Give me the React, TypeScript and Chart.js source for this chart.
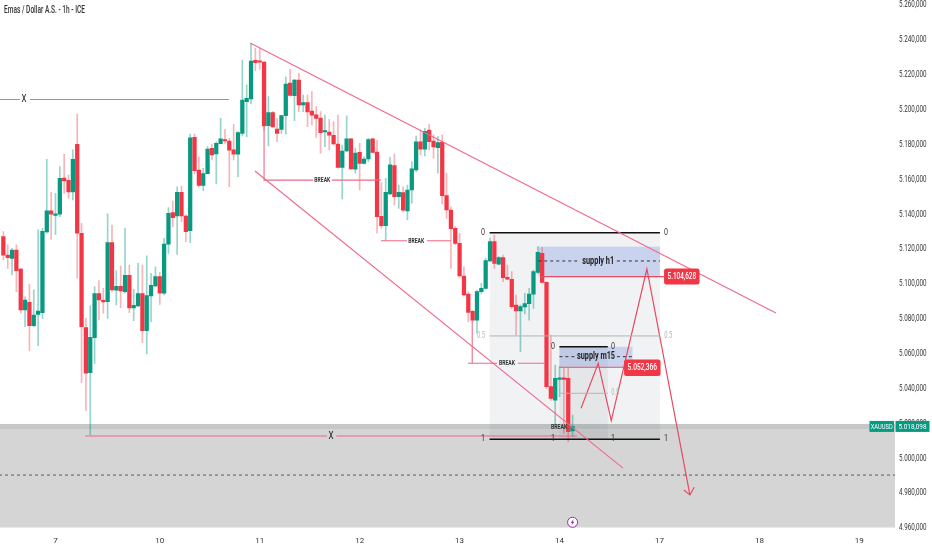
import React, { useEffect, useRef } from "react";
import { Chart, registerables } from "chart.js";

Chart.register(...registerables);

const opens = [
  5127.0, 5116.4, 5114.5, 5119.3, 5108.4, 5084.9, 5089.3, 5075.9, 5082.4, 5083.4,
  5129.6, 5141.7, 5139.2, 5139.8, 5160.6, 5159.3, 5152.6, 5179.9, 5128.9, 5074.8,
  5048.9, 5069.0, 5094.3, 5090.1, 5089.7, 5123.5, 5096.2, 5098.5, 5095.4, 5104.8,
  5086.0, 5087.2, 5094.3, 5073.0, 5092.9, 5098.7, 5104.0, 5094.6, 5122.6, 5140.7,
  5138.8, 5152.4, 5138.8, 5130.4, 5183.9, 5165.2, 5156.4, 5163.1, 5177.6, 5174.4,
  5180.3, 5182.2, 5181.8, 5176.7, 5174.2, 5186.2, 5204.4, 5205.9, 5228.1, 5227.3,
  5227.1, 5190.6, 5198.1, 5188.7, 5188.5, 5196.4, 5215.1, 5207.8, 5216.8, 5202.5,
  5203.8, 5199.0, 5196.9, 5195.0, 5187.0, 5187.0, 5185.1, 5180.1, 5166.7, 5176.1,
  5183.0, 5165.6, 5175.3, 5169.0, 5171.5, 5183.0, 5175.5, 5138.6, 5133.3, 5151.4,
  5167.7, 5149.9, 5152.2, 5141.7, 5153.7, 5165.2, 5181.3, 5177.2, 5188.1, 5181.8,
  5178.0, 5181.1, 5150.5, 5142.2, 5131.7, 5123.1, 5104.4, 5094.0, 5084.1, 5079.1,
  5095.4, 5097.3, 5113.0, 5124.1, 5111.1, 5114.9, 5103.6, 5102.5, 5087.7, 5084.3,
  5086.6, 5088.5, 5094.0, 5106.5, 5117.4, 5100.7, 5040.9, 5033.2, 5045.1, 5045.5,
  5045.7, 5015.5,
];
const highs = [
  5129.8, 5122.2, 5120.3, 5122.2, 5108.8, 5092.5, 5099.8, 5096.4, 5130.8, 5131.7,
  5171.3, 5152.4, 5151.8, 5167.1, 5174.2, 5162.3, 5176.7, 5197.3, 5134.6, 5080.1,
  5087.2, 5098.3, 5101.7, 5097.3, 5140.0, 5133.6, 5107.5, 5110.1, 5131.7, 5110.7,
  5096.7, 5111.7, 5110.7, 5115.9, 5105.9, 5109.7, 5106.3, 5126.0, 5143.6, 5147.4,
  5155.6, 5156.0, 5139.4, 5185.8, 5185.8, 5172.8, 5166.2, 5178.6, 5180.1, 5181.4,
  5194.8, 5188.5, 5183.4, 5191.4, 5187.2, 5228.3, 5214.0, 5237.9, 5235.0, 5235.0,
  5227.7, 5207.3, 5198.7, 5194.8, 5196.7, 5218.7, 5222.9, 5217.2, 5220.6, 5208.2,
  5208.2, 5210.1, 5201.5, 5198.7, 5196.7, 5194.3, 5192.9, 5196.7, 5179.5, 5196.2,
  5183.4, 5177.6, 5180.5, 5172.8, 5183.4, 5183.4, 5182.4, 5157.9, 5160.4, 5172.5,
  5174.4, 5156.6, 5155.6, 5156.6, 5170.0, 5184.7, 5188.1, 5189.1, 5191.4, 5185.3,
  5184.3, 5185.3, 5163.3, 5144.1, 5132.7, 5128.8, 5109.7, 5095.4, 5084.9, 5096.3,
  5100.2, 5114.5, 5126.0, 5127.9, 5115.5, 5116.4, 5110.7, 5106.9, 5093.5, 5087.7,
  5094.4, 5097.3, 5107.8, 5121.2, 5120.8, 5101.1, 5070.5, 5053.3, 5052.4, 5051.4,
  5051.4, 5024.6,
];
const lows = [
  5113.6, 5108.8, 5105.0, 5095.4, 5083.0, 5075.3, 5061.6, 5075.3, 5064.4, 5080.1,
  5128.9, 5125.4, 5128.3, 5138.4, 5151.8, 5148.9, 5148.0, 5103.1, 5043.2, 5027.1,
  5013.2, 5054.3, 5079.2, 5083.0, 5080.1, 5095.4, 5087.8, 5086.2, 5094.5, 5083.4,
  5078.8, 5086.8, 5066.2, 5059.7, 5078.2, 5098.3, 5088.1, 5093.5, 5117.4, 5132.7,
  5116.8, 5135.6, 5124.1, 5123.5, 5162.9, 5155.3, 5153.3, 5162.9, 5170.9, 5157.2,
  5180.1, 5180.5, 5155.6, 5170.9, 5161.4, 5184.7, 5184.3, 5203.1, 5222.2, 5222.9,
  5188.0, 5179.0, 5189.7, 5181.4, 5186.2, 5185.8, 5207.6, 5193.5, 5198.7, 5198.7,
  5190.1, 5191.0, 5183.9, 5174.8, 5178.6, 5176.7, 5179.5, 5166.2, 5148.6, 5175.7,
  5165.6, 5163.3, 5153.7, 5168.6, 5170.0, 5174.8, 5128.9, 5131.7, 5124.7, 5150.9,
  5145.1, 5143.2, 5141.3, 5136.5, 5146.1, 5164.2, 5173.8, 5173.2, 5176.7, 5171.9,
  5163.3, 5145.7, 5137.5, 5108.8, 5122.2, 5103.6, 5092.9, 5078.2, 5078.2, 5071.5,
  5094.4, 5096.9, 5112.6, 5108.8, 5110.7, 5101.1, 5102.1, 5085.8, 5070.5, 5061.0,
  5082.6, 5079.1, 5085.8, 5105.9, 5100.2, 5039.9, 5033.2, 5018.9, 5035.2, 5014.1,
  5009.3, 5012.2,
];
const closes = [
  5116.4, 5114.9, 5119.3, 5107.5, 5084.9, 5090.6, 5075.9, 5082.0, 5084.3, 5130.0,
  5141.7, 5139.8, 5140.1, 5160.4, 5158.9, 5152.6, 5171.3, 5128.9, 5075.3, 5048.6,
  5069.2, 5094.3, 5090.6, 5089.5, 5123.5, 5096.4, 5098.5, 5095.8, 5104.8, 5086.0,
  5087.6, 5094.3, 5073.0, 5093.1, 5099.0, 5104.0, 5094.6, 5122.7, 5140.3, 5137.9,
  5152.4, 5138.8, 5129.8, 5183.7, 5164.8, 5156.4, 5163.1, 5177.2, 5173.8, 5180.5,
  5183.0, 5181.8, 5176.5, 5174.2, 5186.6, 5205.3, 5206.3, 5227.7, 5226.8, 5227.0,
  5190.4, 5198.1, 5189.9, 5186.2, 5196.4, 5214.5, 5208.0, 5216.8, 5202.5, 5203.8,
  5198.5, 5196.7, 5194.8, 5186.6, 5187.4, 5185.1, 5180.1, 5166.7, 5176.1, 5183.0,
  5165.8, 5174.9, 5169.0, 5171.5, 5182.6, 5175.3, 5138.4, 5133.3, 5152.4, 5168.1,
  5149.9, 5152.4, 5142.1, 5153.7, 5165.8, 5181.3, 5177.2, 5187.4, 5181.4, 5178.4,
  5180.9, 5150.5, 5142.3, 5131.5, 5123.1, 5104.4, 5093.5, 5083.5, 5079.1, 5095.4,
  5097.3, 5113.2, 5124.1, 5111.6, 5114.9, 5103.4, 5102.5, 5086.8, 5084.3, 5086.8,
  5088.5, 5094.0, 5106.9, 5117.9, 5100.7, 5040.9, 5034.2, 5045.7, 5045.7, 5045.1,
  5015.1, 5018.1,
];

const yTicks = [4960, 4980, 5000, 5020, 5040, 5060, 5080, 5100, 5120, 5140, 5160, 5180, 5200, 5220, 5240, 5260];
const dayTicks = [12, 36, 59, 82, 105, 128, 151, 174, 197];
const dayLabels = ["7", "10", "11", "12", "13", "14", "17", "18", "19"];

const FONT = "Roboto, sans-serif";
const GREEN = "#089981";
const RED = "#f23645";
const PINK = "#f0688a";
const ZIG = "#e84a62";

type Pt = { x: number; y: number };
const P = (x: number, y: number): Pt => ({ x, y });

// Trend lines, levels and projections, in candle index / price.
const xTopA = [P(-1, 5205.6), P(3.8, 5205.6)];
const xTopB = [P(6.1, 5205.6), P(51.9, 5205.6)];
const xBotA = [P(18.8, 5012.6), P(74.5, 5012.6)];
const xBotB = [P(76.6, 5012.6), P(132, 5012.6)];
const channelUp = [P(56.8, 5238), P(177.8, 5083.1)];
const channelLow = [P(57.9, 5164.6), P(142.6, 4994.2)];
const break1A = [P(60, 5190.4), P(60, 5159.4), P(71.3, 5159.4)];
const break1B = [P(75.6, 5159.4), P(86.9, 5159.4)];
const break2A = [P(86.9, 5124.6), P(92.9, 5124.6)];
const break2B = [P(97.5, 5124.6), P(103, 5124.6)];
const break3A = [P(107.9, 5079.1), P(107.9, 5054.3)];
const break3B = [P(106.9, 5054.3), P(113.6, 5054.3)];
const break3C = [P(118.4, 5054.3), P(124.7, 5054.3)];
const fibTop = [P(111.9, 5129.2), P(151.1, 5129.2)];
const fibMid = [P(111.9, 5070), P(151.1, 5070)];
const fibBot = [P(111.9, 5010.7), P(151.1, 5010.7)];
const fib2Top = [P(127.97, 5063.8), P(139.1, 5063.8)];
const fib2Mid = [P(127.97, 5037.1), P(139.1, 5037.1)];
const supplyH1DashA = [P(123.1, 5113), P(132.7, 5113)];
const supplyH1DashB = [P(141.2, 5113), P(151.1, 5113)];
const supplyM15DashA = [P(127.97, 5058.1), P(131.6, 5058.1)];
const supplyM15DashB = [P(141.2, 5058.1), P(144.8, 5058.1)];
const levelH1 = [P(123.6, 5104), P(152, 5104)];
const levelM15 = [P(127.97, 5052), P(143, 5052)];
const zoneDash = [P(-1, 4990.2), P(205.2, 4990.2)];
const zigzag = [P(132.95, 5028.5), P(136.9, 5054.3), P(139.9, 5021.4), P(148.1, 5108.4), P(158, 4978.8)];
const arrowHead = [P(156.6, 4981.6), P(158, 4978.8), P(159, 4983.2)];

// Shaded areas: x0, x1, price top, price bottom.
const rects: [number, number, number, number, string][] = [
  [-1, 205.2, 5019.5, 4960, "#d5d5d5"],
  [-1, 205.2, 5019.5, 5016.6, "#c6c7c7"],
  [111.9, 151.1, 5129.2, 5010.7, "rgba(120,123,134,0.10)"],
  [127.97, 139.1, 5063.8, 5010.7, "rgba(120,123,134,0.10)"],
  [123.1, 151.1, 5121.2, 5104, "rgba(98,128,222,0.28)"],
  [127.97, 144.8, 5063.8, 5052.3, "rgba(98,128,222,0.28)"],
];

// Text, candle index, price, colour, font, squeezed width.
type Lbl = [string, number, number, string, string, number];
const N = `8.5px ${FONT}`;
const labels: Lbl[] = [
  ["X", 4.76, 5205.6, "#222", `10px ${FONT}`, 5],
  ["X", 75.4, 5012.6, "#222", `10px ${FONT}`, 5],
  ["BREAK", 73.4, 5159.4, "#333", `bold 7px ${FONT}`, 16],
  ["BREAK", 95, 5124.6, "#333", `bold 7px ${FONT}`, 16],
  ["BREAK", 115.9, 5054.3, "#333", `bold 7px ${FONT}`, 16],
  ["BREAK", 127.9, 5017.8, "#333", `bold 7px ${FONT}`, 16],
  ["0", 110.4, 5129.2, "#333", N, 4],
  ["0", 152.5, 5129.2, "#333", N, 4],
  ["0.5", 109.9, 5070, "#b5b5b5", N, 8],
  ["0.5", 153, 5070, "#b5b5b5", N, 8],
  ["1", 110.4, 5010.7, "#333", N, 4],
  ["1", 152.5, 5010.7, "#333", N, 4],
  ["0", 126.5, 5063.8, "#333", N, 4],
  ["0", 140.3, 5063.8, "#333", N, 4],
  ["0.5", 140.8, 5037.1, "#b5b5b5", N, 8],
  ["1", 126.5, 5010.7, "#333", N, 4],
  ["1", 140.3, 5010.7, "#333", N, 4],
  ["supply h1", 136.9, 5113, "#222", `bold 10.5px ${FONT}`, 32],
  ["supply m15", 136.4, 5058.1, "#222", `bold 10.5px ${FONT}`, 38],
];

const fmt = (v: number) => {
  const s = v.toFixed(3).replace(".", ",");
  return s.slice(0, 1) + "." + s.slice(1);
};

const roundBox = (c: CanvasRenderingContext2D, x: number, y: number, w: number, h: number, r: number, col: string) => {
  c.fillStyle = col;
  c.beginPath();
  c.roundRect(x, y, w, h, r);
  c.fill();
};

const overlay = {
  id: "overlay",
  beforeDatasetsDraw(chart: any) {
    const { ctx: c, scales, chartArea: a } = chart;
    c.save();
    c.beginPath();
    c.rect(a.left, a.top, a.right - a.left, a.bottom - a.top);
    c.clip();
    for (const [x0, x1, top, bot, col] of rects) {
      const l = scales.x.getPixelForValue(x0);
      const r = scales.x.getPixelForValue(x1);
      const t = scales.y.getPixelForValue(top);
      const b = scales.y.getPixelForValue(bot);
      c.fillStyle = col;
      c.fillRect(l, t, r - l, b - t);
    }
    c.restore();
  },
  afterDraw(chart: any) {
    const { ctx: c, scales } = chart;
    const X = (v: number) => scales.x.getPixelForValue(v);
    const Y = (v: number) => scales.y.getPixelForValue(v);
    c.save();
    c.textBaseline = "middle";
    c.textAlign = "center";

    // Price axis labels
    c.fillStyle = "#333";
    c.font = `8.5px ${FONT}`;
    c.textAlign = "left";
    for (const value of yTicks) {
      c.fillText(fmt(value), scales.y.left + 4, Y(value) + 0.5, 27.5);
    }
    c.textAlign = "center";

    for (const [t, x, y, col, font, w] of labels) {
      c.font = font;
      c.fillStyle = col;
      c.fillText(t, X(x), Y(y), w);
    }

    // Level tags
    const tag = (v: number, left: number, w: number, h: number) => {
      const y = Y(v);
      roundBox(c, left, y - h / 2 + 1, w, h, 2.5, RED);
      c.fillStyle = "#fff";
      c.font = `500 9px ${FONT}`;
      c.fillText(fmt(v), left + w / 2, y + 1.2, w - 7);
    };
    tag(5104.628, X(152.05), 35.5, 16);
    tag(5052.366, X(142.85), 36.5, 16.5);

    // Last price tags
    const py = Y(5018.098);
    c.fillStyle = GREEN;
    c.fillRect(869.5, py - 5.5, 24.5, 11);
    c.fillRect(895.5, py - 5.5, 34, 11);
    c.fillStyle = "#fff";
    c.font = `8px ${FONT}`;
    c.fillText("XAUUSD", 881.7, py + 0.3, 22);
    c.fillText(fmt(5018.098), 912.5, py + 0.3, 28);

    // Title
    c.textAlign = "left";
    c.fillStyle = "#333";
    c.font = `500 10px ${FONT}`;
    c.fillText("Emas / Dollar A.S. - 1h - ICE", 4, 10.5, 81);

    // Event marker
    const mx = X(131);
    const my = 522.3;
    c.strokeStyle = "#9c27b0";
    c.lineWidth = 1;
    c.beginPath();
    c.arc(mx, my, 5, 0, Math.PI * 2);
    c.fillStyle = "#fff";
    c.fill();
    c.stroke();
    c.fillStyle = "#9c27b0";
    c.beginPath();
    c.moveTo(mx + 1, my - 3.2);
    c.lineTo(mx - 1.8, my + 0.6);
    c.lineTo(mx - 0.2, my + 0.6);
    c.lineTo(mx - 1, my + 3.2);
    c.lineTo(mx + 1.8, my - 0.6);
    c.lineTo(mx + 0.2, my - 0.6);
    c.closePath();
    c.fill();
    c.restore();
  },
};

const line = (data: Pt[], color: string, width = 1.1, dash: number[] = []) => ({
  type: "line" as const,
  data,
  borderColor: color,
  borderWidth: width,
  borderDash: dash,
  pointRadius: 0,
  tension: 0,
  fill: false,
  order: 1,
});

export default function App() {
  const ref = useRef<HTMLCanvasElement>(null);
  useEffect(() => {
    const up = (i: number) => closes[i] >= opens[i];
    const idx = opens.map((_, i) => i);
    const chart = new Chart(ref.current as HTMLCanvasElement, {
      type: "bar",
      data: {
        datasets: [
          {
            type: "bar",
            data: idx.map((i) => ({ x: i, y: [lows[i], highs[i]] })),
            backgroundColor: idx.map((i) => (up(i) ? "rgba(8,153,129,0.42)" : "rgba(242,54,69,0.38)")),
            barThickness: 1,
            grouped: false,
            order: 3,
          },
          {
            type: "bar",
            data: idx.map((i) => ({ x: i, y: [opens[i], closes[i]] })),
            backgroundColor: idx.map((i) => (up(i) ? GREEN : RED)),
            barThickness: 3.6,
            minBarLength: 1.5,
            grouped: false,
            order: 2,
          },
          line(xTopA, PINK),
          line(xTopB, PINK),
          line(xBotA, PINK),
          line(xBotB, PINK),
          line(channelUp, PINK),
          line(channelLow, PINK),
          line(break1A, PINK),
          line(break1B, PINK),
          line(break2A, PINK),
          line(break2B, PINK),
          line(break3A, PINK),
          line(break3B, PINK),
          line(break3C, PINK),
          line(fibTop, "#111", 1.5),
          line(fibBot, "#111", 1.5),
          line(fibMid, "#b4b4b4", 1),
          line(fib2Top, "#111", 1.5),
          line(fib2Mid, "#b4b4b4", 1),
          line(supplyH1DashA, "#333", 1, [3, 3]),
          line(supplyH1DashB, "#333", 1, [3, 3]),
          line(supplyM15DashA, "#333", 1, [3, 3]),
          line(supplyM15DashB, "#333", 1, [3, 3]),
          line(levelH1, ZIG),
          line(levelM15, ZIG),
          line(zoneDash, "#5c5c5c", 1, [3, 3]),
          line(zigzag, ZIG, 1.2),
          line(arrowHead, ZIG, 1.2),
        ] as any,
      },
      options: {
        responsive: false,
        animation: false,
        devicePixelRatio: 1,
        layout: { padding: 0, autoPadding: false },
        plugins: { legend: { display: false }, tooltip: { enabled: false }, title: { display: false } },
        scales: {
          x: {
            type: "linear",
            offset: false,
            min: -0.77,
            max: 205.2,
            grid: { display: false },
            border: { display: false },
            afterBuildTicks: (s: any) => {
              s.ticks = dayTicks.map((value) => ({ value }));
            },
            afterFit: (s: any) => {
              s.height = 22.3;
            },
            ticks: {
              maxRotation: 0,
              autoSkip: false,
              padding: 0,
              color: "#333",
              font: { family: FONT, size: 8 },
              callback: (v: any) => dayLabels[dayTicks.indexOf(Number(v))] ?? "",
            },
          },
          y: {
            type: "linear",
            position: "right",
            min: 4960,
            max: 5262.7,
            grid: { display: false, drawTicks: false },
            border: { display: false },
            afterBuildTicks: (s: any) => {
              s.ticks = yTicks.map((value) => ({ value }));
            },
            afterFit: (s: any) => {
              s.width = 37;
            },
            ticks: { display: false },
          },
        },
      } as any,
      plugins: [overlay],
    });
    return () => chart.destroy();
  }, []);
  return (
    <div style={{ position: "fixed", left: 0, top: 0, width: 932, height: 550, background: "#fff" }}>
      <canvas ref={ref} width={932} height={550} style={{ display: "block" }} />
    </div>
  );
}
